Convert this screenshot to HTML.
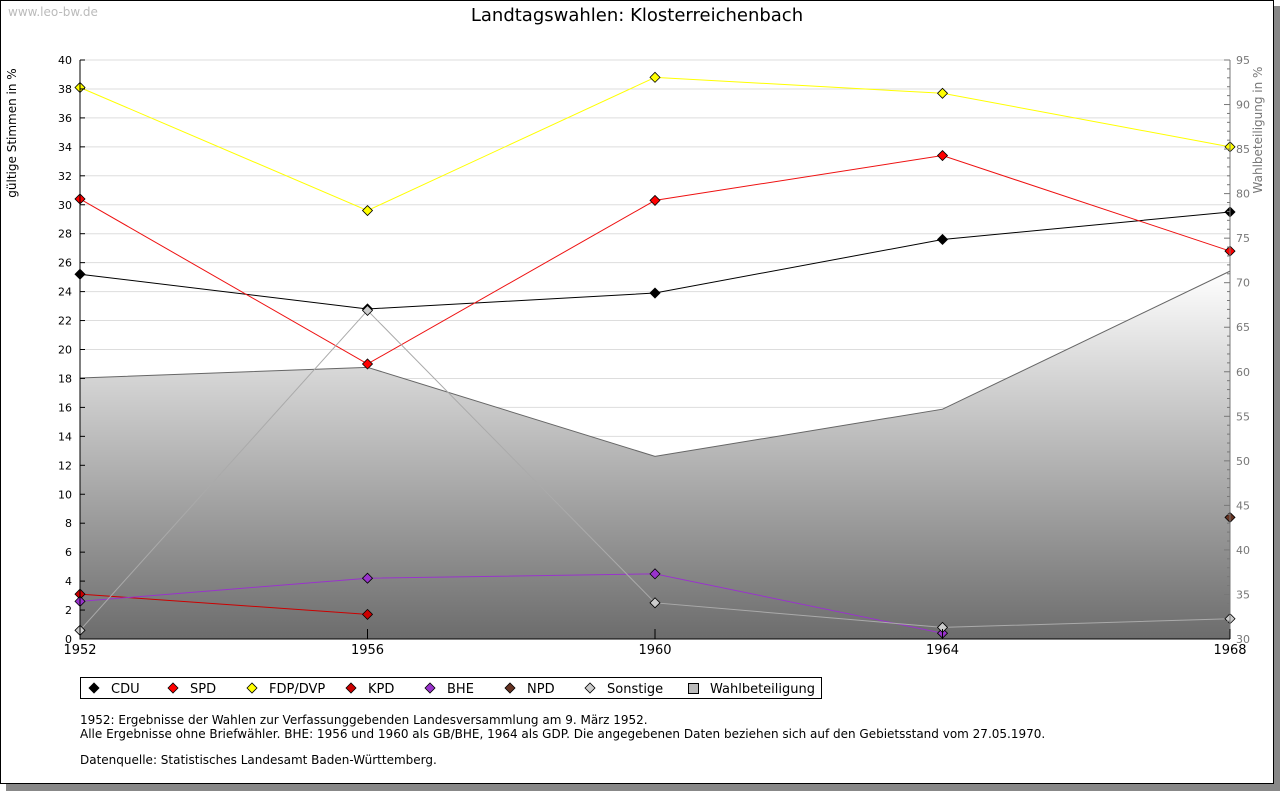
<!DOCTYPE html>
<html><head><meta charset="utf-8">
<style>
body{margin:0;background:#fff;font-family:"DejaVu Sans","Liberation Sans",sans-serif;}
#wrap{position:relative;width:1280px;height:791px;overflow:hidden;}
</style></head>
<body><div id="wrap">
<svg id="svg" width="1280" height="791" xmlns="http://www.w3.org/2000/svg" font-family="DejaVu Sans, Liberation Sans, sans-serif">
<rect x="6" y="6" width="1274" height="785" fill="#888"/>
<rect x="0.5" y="0.5" width="1273" height="783" fill="#fff" stroke="#000"/>
<text x="8" y="16" font-size="12" fill="#bbb">www.leo-bw.de</text>
<text x="637" y="21" font-size="18" text-anchor="middle" fill="#000">Landtagswahlen: Klosterreichenbach</text>
<defs><linearGradient id="g" x1="0" y1="0" x2="0" y2="1"><stop offset="0" stop-color="#ffffff"/><stop offset="1" stop-color="#6c6c6c"/></linearGradient></defs>
<g id="grid"></g><g id="area"></g><g id="lines"></g><g id="axes"></g>
<text transform="translate(16,133) rotate(-90)" font-size="12" text-anchor="middle">gültige Stimmen in %</text>
<text transform="translate(1262,130) rotate(-90)" font-size="12" text-anchor="middle" fill="#777">Wahlbeteiligung in %</text>
<g id="legend"></g>
<text x="80" y="724" font-size="12">1952: Ergebnisse der Wahlen zur Verfassunggebenden Landesversammlung am 9. März 1952.</text>
<text x="80" y="738" font-size="12">Alle Ergebnisse ohne Briefwähler. BHE: 1956 und 1960 als GB/BHE, 1964 als GDP. Die angegebenen Daten beziehen sich auf den Gebietsstand vom 27.05.1970.</text>
<text x="80" y="764" font-size="12">Datenquelle: Statistisches Landesamt Baden-Württemberg.</text>
</svg></div>
<script>
const years=[1952,1956,1960,1964,1968];
const cdu=[25.2,22.8,23.9,27.6,29.5];
const spd=[30.4,19.0,30.3,33.4,26.8];
const fdp=[38.1,29.6,38.8,37.7,34.0];
const kpd=[3.1,1.7,null,null,null];
const bhe=[2.6,4.2,4.5,0.4,null];
const npd=[null,null,null,null,8.4];
const sonst=[0.6,22.7,2.5,0.8,1.4];
const turnout=[59.3,60.5,50.5,55.8,71.3];
const leftTicks=[0,2,4,6,8,10,12,14,16,18,20,22,24,26,28,30,32,34,36,38,40];
const rightTicks=[30,35,40,45,50,55,60,65,70,75,80,85,90,95];
const NS="http://www.w3.org/2000/svg";
const X0=80,X1=1230,Y0=639,Y1=60;
const x=v=>X0+(v-1952)*(X1-X0)/16;
const yL=v=>Y0-v*(Y0-Y1)/40;
const yR=v=>Y0-(v-30)*(Y0-Y1)/65;
function mk(tag,at,parent){const e=document.createElementNS(NS,tag);for(const k in at)e.setAttribute(k,at[k]);document.getElementById(parent).appendChild(e);return e;}
leftTicks.forEach(t=>{
 if(t>0){const l=mk('line',{x1:X0,x2:X1,y1:yL(t),y2:yL(t),stroke:'#ddd'},'grid');
 
 }
 const tk=mk('line',{x1:X0,x2:X0+5,y1:yL(t),y2:yL(t),stroke:'#000'},'axes');
 
 
 const tx=mk('text',{x:X0-8,y:yL(t)+4,'font-size':11,'text-anchor':'end'},'axes');tx.textContent=t;
 
 
});
for(let v=30;v<=95;v++){const mj=v%5==0;const tk=mk('line',{x1:X1-(mj?6:3),x2:X1,y1:yR(v),y2:yR(v),stroke:'#777'},'axes');
 
 }
rightTicks.forEach(t=>{const tx=mk('text',{x:X1+6,y:yR(t)+4,'font-size':11,fill:'#777'},'axes');tx.textContent=t;
 
 });
let d='M'+x(years[0])+','+Y0;years.forEach((yr,i)=>d+=' L'+x(yr)+','+yR(turnout[i]));d+=' L'+x(years[4])+','+Y0+' Z';
const ar=mk('path',{d:d,fill:'url(#g)'},'area');


const ol=mk('polyline',{points:years.map((yr,i)=>x(yr)+','+yR(turnout[i])).join(' '),fill:'none',stroke:'#666'},'area');


const ax=mk('path',{d:`M${X0},${Y1} L${X0},${Y0} L${X1},${Y0}`,fill:'none',stroke:'#000'},'axes');


const ar2=mk('line',{x1:X1,x2:X1,y1:Y1,y2:Y0,stroke:'#777'},'axes');


years.forEach(yr=>{const tk=mk('line',{x1:x(yr),x2:x(yr),y1:Y0,y2:Y0-10,stroke:'#000'},'axes');
 
 
 const tx=mk('text',{x:x(yr),y:Y0+15,'font-size':13,'text-anchor':'middle'},'axes');tx.textContent=yr;
 
 });
const series=[['CDU',cdu,'#000','#000'],['SPD',spd,'#ff0000','#ee1111'],['FDP/DVP',fdp,'#ffff00','#ffff00'],['KPD',kpd,'#cc0000','#cc0000'],['BHE',bhe,'#9933cc','#9933cc'],['NPD',npd,'#663322','#663322'],['Sonstige',sonst,'#ccc','#aaa']];
function diamond(cx,cy,fill,parent,name){const p=mk('path',{d:`M${cx-5},${cy} L${cx},${cy-5} L${cx+5},${cy} L${cx},${cy+5} Z`,fill:fill,stroke:'#000','stroke-width':0.8},parent);
 
 }
series.forEach(([n,vals,mc,lc])=>{
 const pts=[];vals.forEach((v,i)=>{if(v!==null)pts.push(x(years[i])+','+yL(v));});
 if(pts.length>1){const l=mk('polyline',{points:pts.join(' '),fill:'none',stroke:lc,'stroke-width':1},'lines');
 
 }
});
series.forEach(([n,vals,mc])=>{vals.forEach((v,i)=>{if(v!==null)diamond(x(years[i]),yL(v),mc,'lines','point-'+n.toLowerCase().replace('/','-'));});});
const lb=mk('rect',{x:80.5,y:677.5,width:741,height:21,fill:'#fff',stroke:'#000'},'legend');


const lx=[94,173,252,351,430,510,590];
series.forEach(([n,vals,mc],i)=>{diamond(lx[i],688,mc,'legend','legend-marker');
 const t=mk('text',{x:lx[i]+17,y:693,'font-size':13},'legend');t.textContent=n;
 
 });
const sw=mk('rect',{x:688.5,y:683.5,width:10,height:10,fill:'#bbb',stroke:'#000'},'legend');


const wt=mk('text',{x:710,y:693,'font-size':13},'legend');wt.textContent='Wahlbeteiligung';


</script>
</body></html>
